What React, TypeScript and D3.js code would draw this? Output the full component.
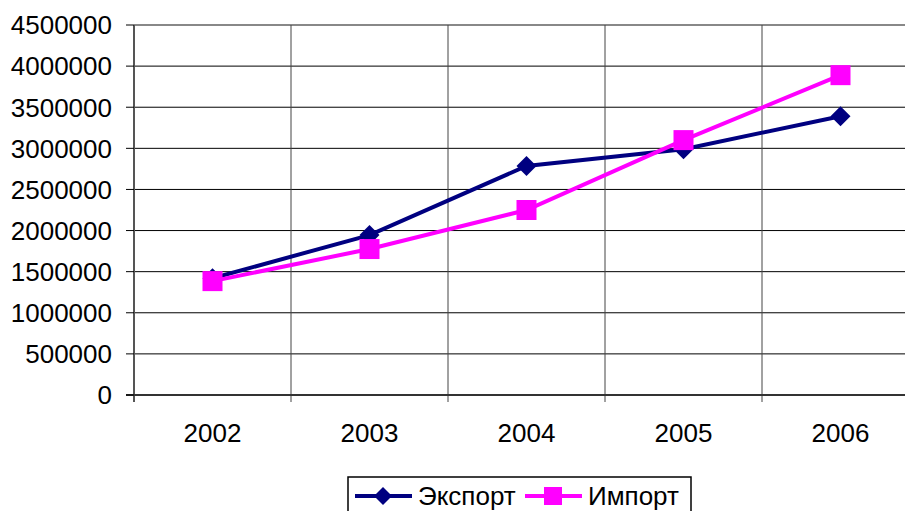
import React, { useEffect, useRef } from "react";
import * as d3 from "d3";

const years = ["2002", "2003", "2004", "2005", "2006"];
const exportValues = [1420000, 1945000, 2785000, 2990000, 3390000];
const importValues = [1385000, 1775000, 2250000, 3100000, 3890000];
const yTicks = [0, 500000, 1000000, 1500000, 2000000, 2500000, 3000000, 3500000, 4000000, 4500000];

export default function App() {
  const svgRef = useRef<SVGSVGElement | null>(null);

  useEffect(() => {
    const width = 905;
    const height = 511;
    const left = 134;
    const top = 25;
    const bottom = 395;
    const band = 157;
    const fs = 26;

    const svg = d3.select(svgRef.current)
      .attr("width", width)
      .attr("height", height)
      .attr("style", "display:block; font-family: 'Liberation Sans', Arial, sans-serif;");

    svg.selectAll("*").remove();

    const x = d3.scaleBand().domain(years).range([left, left + band * years.length]);
    const y = d3.scaleLinear().domain([0, 4500000]).range([bottom, top]);
    const cx = (d: string) => (x(d) as number) + x.bandwidth() / 2;

    // horizontal grid
    svg.append("g")
      .selectAll("line")
      .data(yTicks.filter(t => t > 0 && t < 4500000))
      .join("line")
      .attr("x1", left).attr("x2", width)
      .attr("y1", d => y(d)).attr("y2", d => y(d))
      .attr("stroke", "#000").attr("stroke-width", 1);

    // top border
    svg.append("line")
      .attr("x1", left).attr("x2", width)
      .attr("y1", top).attr("y2", top)
      .attr("stroke", "#888").attr("stroke-width", 2);

    // vertical grid
    svg.append("g")
      .selectAll("line")
      .data(years.slice(1))
      .join("line")
      .attr("x1", d => x(d) as number).attr("x2", d => x(d) as number)
      .attr("y1", top).attr("y2", bottom + 7)
      .attr("stroke", "#444").attr("stroke-width", 1);

    // y axis
    svg.append("line")
      .attr("x1", left).attr("x2", left)
      .attr("y1", top).attr("y2", bottom + 7)
      .attr("stroke", "#555").attr("stroke-width", 2);

    // x axis
    svg.append("line")
      .attr("x1", left - 8).attr("x2", width)
      .attr("y1", bottom).attr("y2", bottom)
      .attr("stroke", "#333").attr("stroke-width", 2);

    const yAxis = svg.append("g");
    yAxis.selectAll("line")
      .data(yTicks)
      .join("line")
      .attr("x1", left - 8).attr("x2", left)
      .attr("y1", d => y(d)).attr("y2", d => y(d))
      .attr("stroke", "#000");
    yAxis.selectAll("text")
      .data(yTicks)
      .join("text")
      .attr("x", left - 22)
      .attr("y", d => y(d))
      .attr("dy", "0.36em")
      .attr("text-anchor", "end")
      .attr("font-size", fs)
      .text(d => String(d));

    svg.append("g")
      .selectAll("text")
      .data(years)
      .join("text")
      .attr("x", d => cx(d))
      .attr("y", 442)
      .attr("text-anchor", "middle")
      .attr("font-size", fs)
      .text(d => d);

    const line = d3.line<number>()
      .x((_, i) => cx(years[i]))
      .y(d => y(d));

    svg.append("path")
      .datum(exportValues)
      .attr("d", line)
      .attr("fill", "none")
      .attr("stroke", "#000080")
      .attr("stroke-width", 4);

    svg.append("g")
      .selectAll("path")
      .data(exportValues)
      .join("path")
      .attr("d", "M0,-10L10,0L0,10L-10,0Z")
      .attr("transform", (d, i) => `translate(${cx(years[i])},${y(d)})`)
      .attr("fill", "#000080");

    svg.append("path")
      .datum(importValues)
      .attr("d", line)
      .attr("fill", "none")
      .attr("stroke", "#FF00FF")
      .attr("stroke-width", 4);

    svg.append("g")
      .selectAll("rect")
      .data(importValues)
      .join("rect")
      .attr("x", (d, i) => cx(years[i]) - 10)
      .attr("y", d => y(d) - 10)
      .attr("width", 20)
      .attr("height", 20)
      .attr("fill", "#FF00FF");

    // legend
    const lg = svg.append("g");
    lg.append("rect")
      .attr("x", 348).attr("y", 477)
      .attr("width", 343).attr("height", 40)
      .attr("fill", "#fff").attr("stroke", "#000").attr("stroke-width", 1.5);

    const items = [
      { name: "Экспорт", color: "#000080", x0: 355, shape: "diamond" },
      { name: "Импорт", color: "#FF00FF", x0: 525, shape: "square" }
    ];
    items.forEach(it => {
      lg.append("line")
        .attr("x1", it.x0).attr("x2", it.x0 + 57)
        .attr("y1", 496).attr("y2", 496)
        .attr("stroke", it.color).attr("stroke-width", 4);
      if (it.shape === "diamond") {
        lg.append("path")
          .attr("d", "M0,-9L9,0L0,9L-9,0Z")
          .attr("transform", `translate(${it.x0 + 28},496)`)
          .attr("fill", it.color);
      } else {
        lg.append("rect")
          .attr("x", it.x0 + 19).attr("y", 487)
          .attr("width", 18).attr("height", 18)
          .attr("fill", it.color);
      }
      lg.append("text")
        .attr("x", it.x0 + 63)
        .attr("y", 496)
        .attr("dy", "0.36em")
        .attr("font-size", fs)
        .text(it.name);
    });
  }, []);

  return (
    <div style={{ position: "absolute", left: 0, top: 0, width: 905, height: 511, background: "#fff" }}>
      <svg ref={svgRef} />
    </div>
  );
}
